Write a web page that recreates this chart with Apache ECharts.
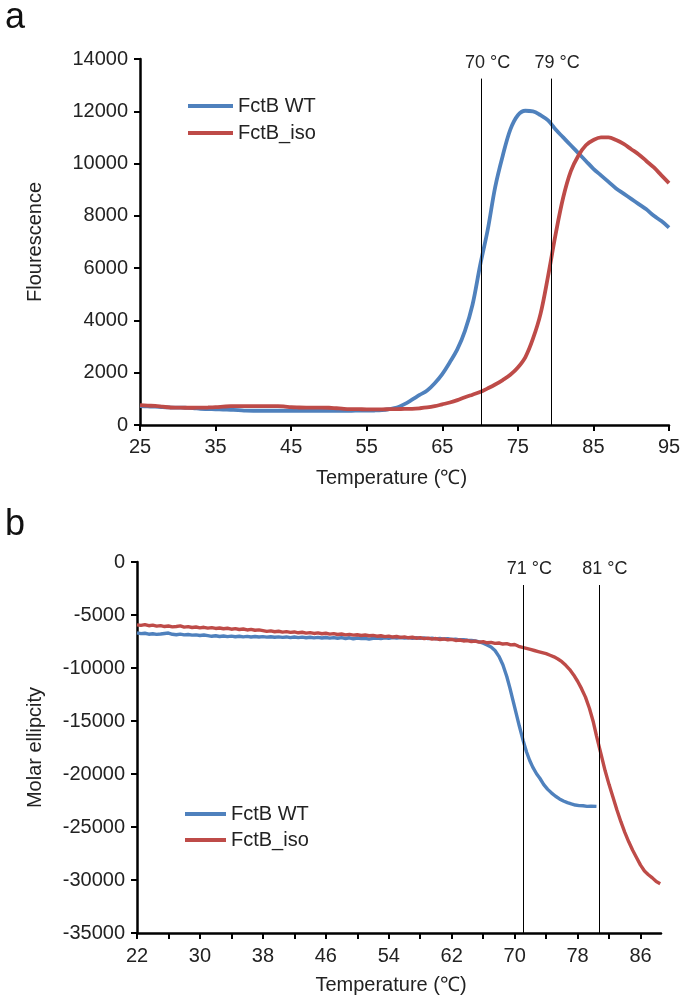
<!DOCTYPE html>
<html>
<head>
<meta charset="utf-8">
<script src="https://cdn.jsdelivr.net/npm/echarts@6.0.0/dist/echarts.min.js"></script>
<style>
  html, body { margin: 0; padding: 0; background: #fff; }
  #chart { width: 685px; height: 1001px; }
</style>
</head>
<body>
<div id="chart"></div>
<script>
// panel a - fluorescence vs temperature
const wtFluor = [
  [25, 720], [26, 710], [27, 700], [28, 680], [29, 670], [30, 665], [31, 660], [32, 650], [33, 620], [34, 610],
  [35, 600], [36, 590], [37, 580], [38, 570], [39, 550], [40, 545], [41, 545], [42, 545], [43, 545], [44, 545],
  [45, 545], [46, 545], [47, 545], [48, 545], [49, 545], [50, 545], [51, 545], [52, 545], [53, 545], [54, 550],
  [55, 550], [56, 555], [57, 570], [58, 610], [59, 670], [60, 800], [61, 970], [62, 1150], [63, 1320], [64, 1600],
  [65, 1950], [66, 2400], [67, 2900], [68, 3600], [69, 4600], [70, 6100], [71, 7450], [72, 9100], [73, 10300], [74, 11300],
  [75, 11850], [76, 12020], [77, 12000], [78, 11850], [79, 11650], [80, 11300], [81, 11000], [82, 10700], [83, 10400], [84, 10100],
  [85, 9800], [86, 9550], [87, 9300], [88, 9050], [89, 8850], [90, 8650], [91, 8450], [92, 8250], [93, 8000], [94, 7800],
  [95, 7550]
];
const isoFluor = [
  [25, 760], [26, 740], [27, 730], [28, 700], [29, 670], [30, 665], [31, 660], [32, 660], [33, 665], [34, 670],
  [35, 680], [36, 700], [37, 720], [38, 725], [39, 725], [40, 725], [41, 725], [42, 725], [43, 720], [44, 710],
  [45, 680], [46, 670], [47, 665], [48, 665], [49, 665], [50, 660], [51, 640], [52, 620], [53, 610], [54, 605],
  [55, 600], [56, 600], [57, 600], [58, 605], [59, 610], [60, 615], [61, 620], [62, 640], [63, 670], [64, 720],
  [65, 790], [66, 860], [67, 950], [68, 1060], [69, 1160], [70, 1260], [71, 1400], [72, 1550], [73, 1720], [74, 1920],
  [75, 2200], [76, 2600], [77, 3300], [78, 4250], [79, 5700], [80, 7300], [81, 8700], [82, 9700], [83, 10300], [84, 10700],
  [85, 10900], [86, 11000], [87, 11000], [88, 10900], [89, 10750], [90, 10550], [91, 10350], [92, 10100], [93, 9850], [94, 9550],
  [95, 9250]
];
const meltA = [70.2, 79.4];
const meltLabelsA = ['70 °C', '79 °C'];
const xTicksA = [25, 35, 45, 55, 65, 75, 85, 95];

// panel b - molar ellipticity vs temperature
const wtCD = [
  [22, -6680], [22.5, -6760], [23, -6720], [23.5, -6810], [24, -6770], [24.5, -6830], [25, -6790], [25.5, -6740],
  [26, -6700], [26.5, -6820], [27, -6860], [27.5, -6800], [28, -6880], [28.5, -6840], [29, -6900], [29.5, -6870],
  [30, -6930], [30.5, -6890], [31, -6950], [31.5, -7010], [32, -6960], [32.5, -7030], [33, -6980], [33.5, -7040],
  [34, -6990], [34.5, -7050], [35, -7000], [35.5, -7060], [36, -7020], [36.5, -7070], [37, -7030], [37.5, -7080],
  [38, -7040], [38.5, -7090], [39, -7050], [39.5, -7100], [40, -7060], [40.5, -7110], [41, -7070], [41.5, -7130],
  [42, -7080], [42.5, -7140], [43, -7090], [43.5, -7150], [44, -7100], [44.5, -7160], [45, -7110], [45.5, -7170],
  [46, -7120], [46.5, -7180], [47, -7130], [47.5, -7190], [48, -7140], [48.5, -7220], [49, -7150], [49.5, -7260],
  [50, -7170], [50.5, -7230], [51, -7200], [51.5, -7280], [52, -7210], [52.5, -7170], [53, -7220], [53.5, -7150],
  [54, -7190], [54.5, -7130], [55, -7180], [55.5, -7120], [56, -7170], [56.5, -7140], [57, -7200], [57.5, -7150],
  [58, -7210], [58.5, -7160], [59, -7230], [59.5, -7180], [60, -7250], [60.5, -7210], [61, -7270], [61.5, -7230],
  [62, -7300], [62.5, -7280], [63, -7340], [63.5, -7320], [64, -7380], [64.5, -7400], [65, -7450], [65.5, -7530],
  [66, -7650], [66.5, -7820], [67, -8020], [67.5, -8350], [68, -8900], [68.5, -9700], [69, -10800], [69.4, -11900],
  [69.8, -13100], [70.2, -14300], [70.6, -15500], [71.1, -16900], [71.5, -17900], [71.9, -18700], [72.3, -19350], [72.8, -20000],
  [73.2, -20400], [73.7, -21000], [74.2, -21450], [74.7, -21800], [75.2, -22100], [75.7, -22350], [76.2, -22550], [76.7, -22700],
  [77.2, -22820], [77.7, -22930], [78.2, -22980], [78.7, -23000], [79.2, -23050], [79.7, -23030], [80.4, -23050]
];
const isoCD = [
  [22, -5930], [22.5, -5980], [23, -5900], [23.5, -6010], [24, -5960], [24.5, -6050], [25, -6000], [25.5, -6090],
  [26, -6040], [26.5, -6120], [27, -6080], [27.5, -6030], [28, -6140], [28.5, -6100], [29, -6180], [29.5, -6130],
  [30, -6210], [30.5, -6160], [31, -6240], [31.5, -6190], [32, -6270], [32.5, -6230], [33, -6300], [33.5, -6250],
  [34, -6340], [34.5, -6290], [35, -6370], [35.5, -6320], [36, -6410], [36.5, -6360], [37, -6440], [37.5, -6400],
  [38, -6470], [38.5, -6540], [39, -6500], [39.5, -6580], [40, -6530], [40.5, -6610], [41, -6570], [41.5, -6640],
  [42, -6600], [42.5, -6680], [43, -6630], [43.5, -6710], [44, -6660], [44.5, -6740], [45, -6690], [45.5, -6770],
  [46, -6720], [46.5, -6800], [47, -6760], [47.5, -6840], [48, -6790], [48.5, -6870], [49, -6830], [49.5, -6900],
  [50, -6860], [50.5, -6930], [51, -6890], [51.5, -6960], [52, -6920], [52.5, -7000], [53, -6960], [53.5, -7040],
  [54, -6990], [54.5, -7080], [55, -7030], [55.5, -7110], [56, -7070], [56.5, -7150], [57, -7100], [57.5, -7190],
  [58, -7140], [58.5, -7230], [59, -7180], [59.5, -7270], [60, -7220], [60.5, -7310], [61, -7260], [61.5, -7350],
  [62, -7300], [62.5, -7400], [63, -7360], [63.5, -7450], [64, -7410], [64.5, -7500], [65, -7460], [65.5, -7560],
  [66, -7520], [66.5, -7620], [67, -7580], [67.5, -7680], [68, -7640], [68.5, -7740], [69, -7700], [69.5, -7820],
  [70, -7780], [70.5, -7950], [71, -8050], [71.5, -8150], [72, -8250], [72.5, -8350], [73, -8450], [73.5, -8550],
  [74, -8650], [74.5, -8800], [75, -8950], [75.5, -9150], [76, -9400], [76.5, -9750], [77, -10150], [77.5, -10650],
  [78, -11250], [78.5, -11950], [79, -12750], [79.5, -13800], [80, -15100], [80.4, -16400], [80.7, -17300], [81, -18200],
  [81.5, -19700], [82, -21000], [82.5, -22200], [83, -23400], [83.5, -24500], [84, -25500], [84.5, -26400], [85, -27200],
  [85.5, -27900], [86, -28600], [86.5, -29150], [87, -29500], [87.5, -29800], [88, -30150], [88.5, -30350]
];
const meltB = [71.1, 80.7];
const meltLabelsB = ['71 °C', '81 °C'];
const xTicksB = [22, 26, 30, 34, 38, 42, 46, 50, 54, 58, 62, 66, 70, 74, 78, 82, 86];
const xLabelsB = [22, 30, 38, 46, 54, 62, 70, 78, 86];

const seriesNames = ['FctB WT', 'FctB_iso'];
const font = '"Liberation Sans", Arial, Helvetica, sans-serif';
const blue = '#4f81bd';
const red = '#be4b48';

const chart = echarts.init(document.getElementById('chart'));

function meltLines(xs, labels, yFrom, yTo) {
  return {
    silent: true,
    symbol: 'none',
    lineStyle: { color: '#000', width: 1, type: 'solid' },
    emphasis: { disabled: true },
    label: {
      show: true, position: 'end', formatter: '{b}', distance: 7,
      color: '#222', fontSize: 18, fontFamily: font, padding: [0, 0, 0, 12]
    },
    data: xs.map((x, i) => [{ name: labels[i], coord: [x, yFrom] }, { coord: [x, yTo] }])
  };
}

const axisLine = { show: true, onZero: false, lineStyle: { color: '#000', width: 2.5 } };
const axisTick = { show: true, inside: false, length: 6, lineStyle: { color: '#000', width: 2 } };
const labelStyle = { color: '#222', fontSize: 20, fontFamily: font };
const yNameStyle = { color: '#222', fontSize: 20, fontFamily: font };
const legendText = { color: '#222', fontSize: 20, fontFamily: font };

const option = {
  animation: false,
  backgroundColor: '#fff',
  graphic: [
    { type: 'text', left: 5, top: 0, style: { text: 'a', fontSize: 36, fontFamily: font, fill: '#111' } },
    { type: 'text', left: 5, top: 507, style: { text: 'b', fontSize: 36, fontFamily: font, fill: '#111' } }
  ],
  legend: [
    {
      data: seriesNames, orient: 'vertical', left: 188, top: 96, padding: 0,
      icon: 'rect', itemWidth: 45, itemHeight: 4, itemGap: 7,
      textStyle: legendText
    },
    {
      data: seriesNames, orient: 'vertical', left: 185, top: 804, padding: 0,
      icon: 'rect', itemWidth: 41, itemHeight: 4, itemGap: 6,
      textStyle: legendText
    }
  ],
  grid: [
    { left: 140, right: 16, top: 59, height: 366 },
    { left: 137, right: 24, top: 562, height: 371 }
  ],
  xAxis: [
    {
      gridIndex: 0, type: 'value', min: 25, max: 95,
      axisLine, axisTick: { ...axisTick, customValues: xTicksA },
      axisLabel: { ...labelStyle, margin: 12, customValues: xTicksA },
      splitLine: { show: false },
      name: 'Temperature (℃)', nameLocation: 'middle', nameGap: 43,
      nameTextStyle: { ...yNameStyle, padding: [0, 26, 0, 0] }
    },
    {
      gridIndex: 1, type: 'value', min: 22, max: 88.6,
      axisLine, axisTick: { ...axisTick, customValues: xTicksB },
      axisLabel: { ...labelStyle, margin: 13, customValues: xLabelsB },
      splitLine: { show: false },
      name: 'Temperature (℃)', nameLocation: 'middle', nameGap: 42,
      nameTextStyle: { ...yNameStyle, padding: [0, 16, 0, 0] }
    }
  ],
  yAxis: [
    {
      gridIndex: 0, type: 'value', min: 0, max: 14000, interval: 2000,
      axisLine, axisTick, axisLabel: { ...labelStyle, margin: 12, formatter: v => String(v) },
      splitLine: { show: false },
      name: 'Flourescence', nameLocation: 'middle', nameGap: 95, nameTextStyle: yNameStyle
    },
    {
      gridIndex: 1, type: 'value', min: -35000, max: 0, interval: 5000,
      axisLine, axisTick, axisLabel: { ...labelStyle, margin: 12, formatter: v => String(v) },
      splitLine: { show: false },
      name: 'Molar ellipcity', nameLocation: 'middle', nameGap: 92, nameTextStyle: yNameStyle
    }
  ],
  series: [
    {
      name: seriesNames[0], type: 'line', xAxisIndex: 0, yAxisIndex: 0,
      data: wtFluor, showSymbol: false, smooth: 0.35, color: blue,
      lineStyle: { width: 3.8, color: blue }
    },
    {
      name: seriesNames[1], type: 'line', xAxisIndex: 0, yAxisIndex: 0,
      data: isoFluor, showSymbol: false, smooth: 0.35, color: red,
      lineStyle: { width: 3.8, color: red },
      markLine: meltLines(meltA, meltLabelsA, 0, 13250)
    },
    {
      name: seriesNames[0], type: 'line', xAxisIndex: 1, yAxisIndex: 1,
      data: wtCD, showSymbol: false, color: blue,
      lineStyle: { width: 3.4, color: blue }
    },
    {
      name: seriesNames[1], type: 'line', xAxisIndex: 1, yAxisIndex: 1,
      data: isoCD, showSymbol: false, color: red,
      lineStyle: { width: 3.4, color: red },
      markLine: meltLines(meltB, meltLabelsB, -35000, -2170)
    }
  ]
};

chart.setOption(option);
</script>
</body>
</html>
